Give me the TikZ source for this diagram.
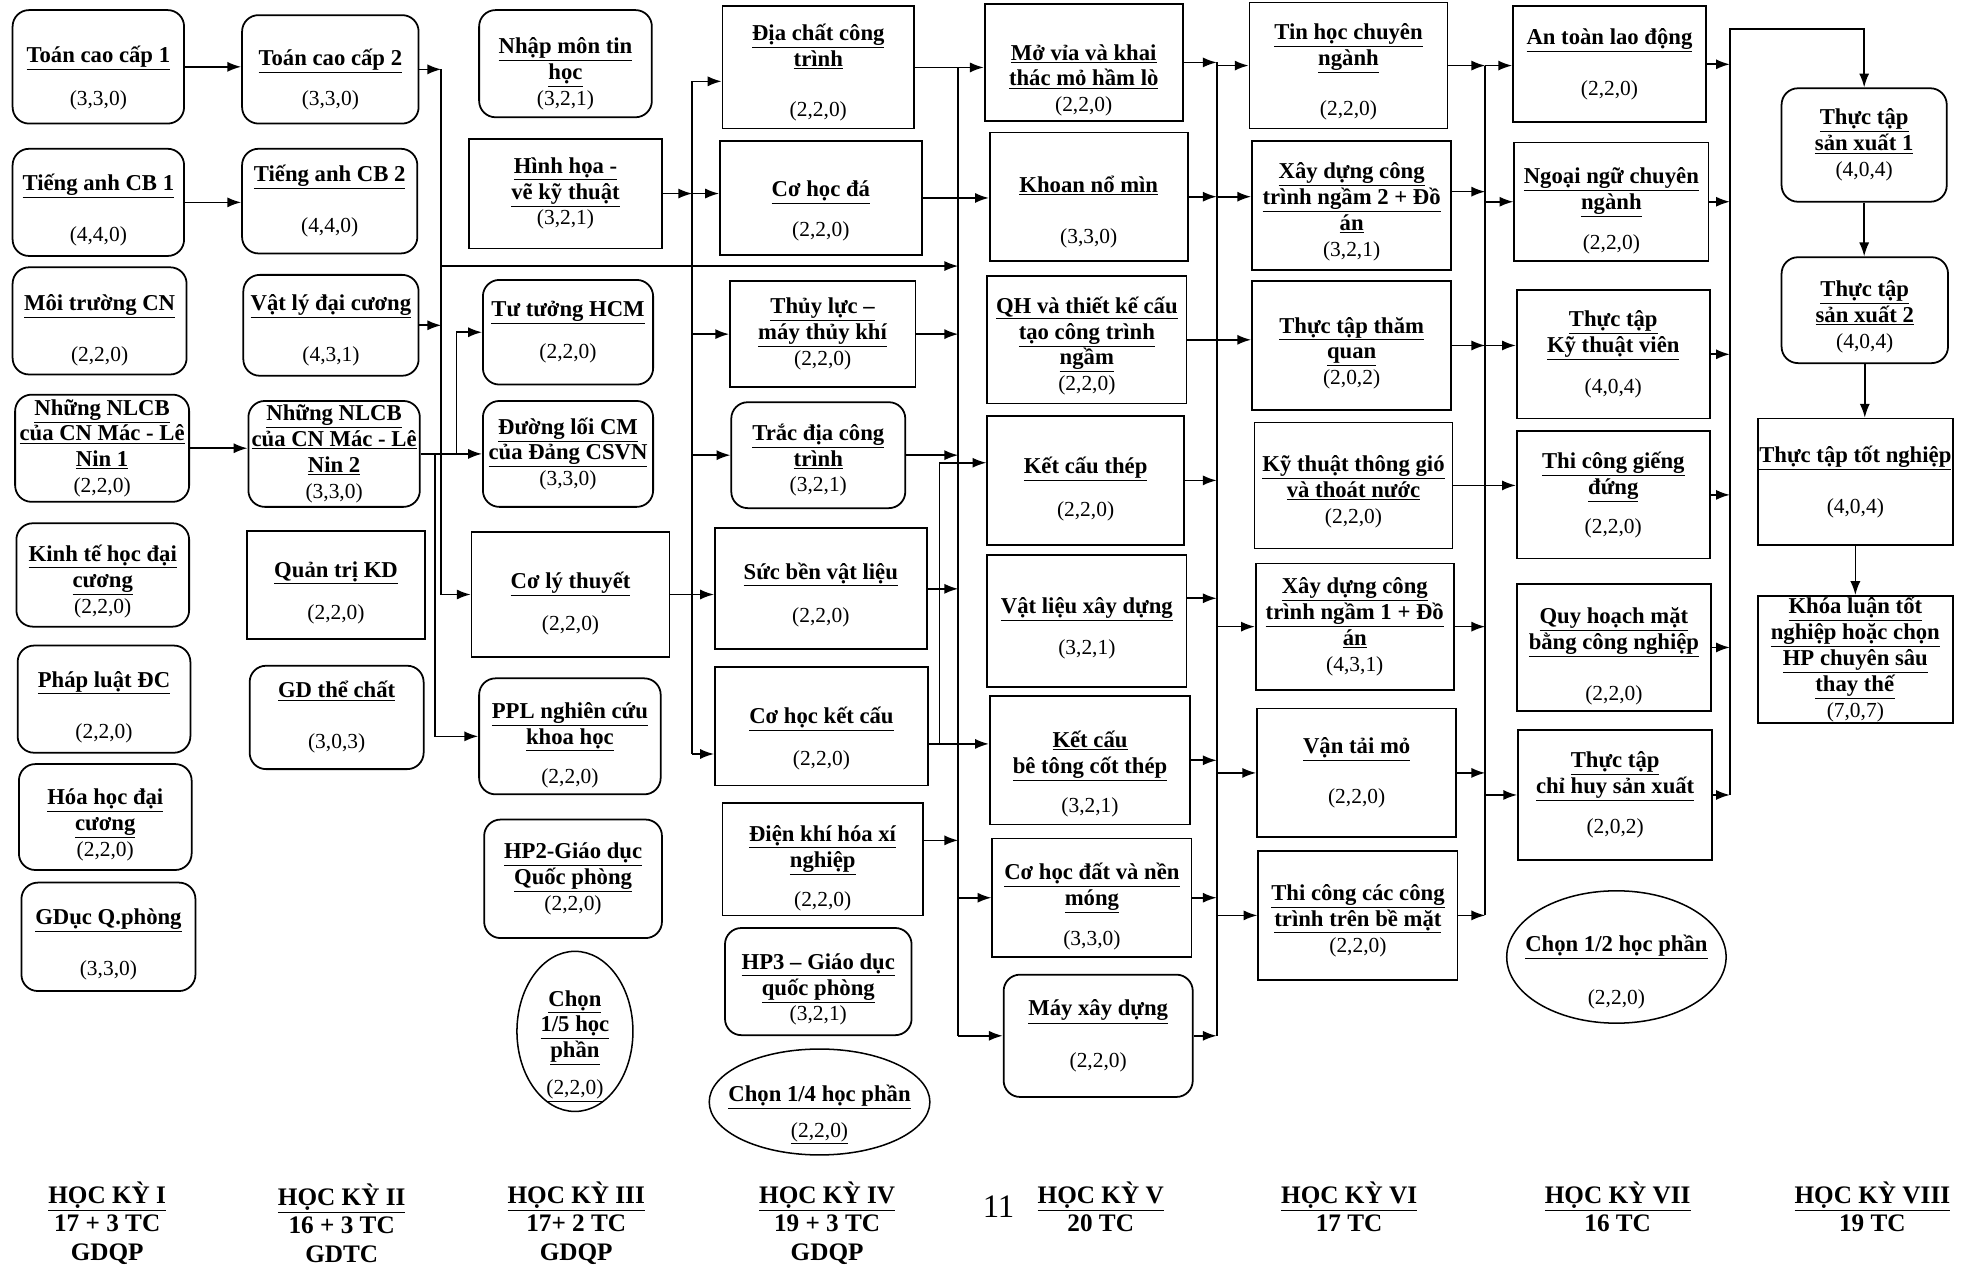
\documentclass[tikz,border=0pt]{standalone}
\usepackage{fontspec}
\setmainfont{Liberation Serif}
\usetikzlibrary{arrows.meta,shapes.geometric}
\newcommand{\mon}[1]{{\fontsize{18}{20.5}\selectfont\underline{\textbf{#1}}}}
\newcommand{\topgap}[1]{\rule{0pt}{#1pt}}

\begin{document}
\begin{tikzpicture}[x=1pt, y=-1pt,
        every node/.style={font=\fontsize{17}{20.5}\selectfont},
        course/.style={draw, line width=1.4pt, align=center, inner sep=1pt},
        rcourse/.style={course, rounded corners=13pt},
        choice/.style={ellipse, draw, line width=1.2pt, align=center, inner xsep=-20pt, inner ysep=-30pt},
        sz/.style 2 args={minimum width=#1pt, minimum height=#2pt},
        flow/.style={-{Latex[length=11pt,width=8pt]}, line width=1.3pt},
        bus/.style={line width=1.3pt},
        term/.style={align=center, font=\fontsize{20}{22.5}\selectfont\bfseries}
    ]
    \path[use as bounding box, fill=white] (0,0) rectangle (1568,1005);

    % Semester I
    \node[rcourse, sz={136}{90}] (toan_1) at (78,53) {\topgap{31}\mon{Toán cao cấp 1}\\[13pt](3,3,0)};
    \node[rcourse, sz={136}{85}] (anh_1) at (78,160.5) {\topgap{25}\mon{Tiếng anh CB 1}\\[20pt](4,4,0)};
    \node[rcourse, sz={138}{85}] (moi_truong) at (79,254.5) {\topgap{27}\mon{Môi trường CN}\\[20pt](2,2,0)};
    \node[rcourse, sz={138}{85}] (nlcb_1) at (81,355.5) {\mon{Những NLCB}\\\mon{của CN Mác - Lê}\\\mon{Nin 1}\\(2,2,0)};
    \node[rcourse, sz={137}{82}] (kinh_te) at (81.5,456) {\topgap{23}\mon{Kinh tế học đại}\\\mon{cương}\\(2,2,0)};
    \node[rcourse, sz={137}{85}] (phap_luat) at (82.5,554.5) {\topgap{25}\mon{Pháp luật ĐC}\\[20pt](2,2,0)};
    \node[rcourse, sz={137}{84}] (hoa_hoc) at (83.5,648) {\topgap{25}\mon{Hóa học đại}\\\mon{cương}\\(2,2,0)};
    \node[rcourse, sz={138}{86}] (gdqp_1) at (86,743) {\topgap{25}\mon{GDục Q.phòng}\\[20pt](3,3,0)};

    % Semester II
    \node[rcourse, sz={140}{86}] (toan_2) at (262,55) {\topgap{29}\mon{Toán cao cấp 2}\\[11pt](3,3,0)};
    \node[rcourse, sz={139}{83}] (anh_2) at (261.5,159.5) {\mon{Tiếng anh CB 2}\\[20pt](4,4,0)};
    \node[rcourse, sz={139}{80}] (vat_ly) at (262.5,258) {\topgap{21}\mon{Vật lý đại cương}\\[20pt](4,3,1)};
    \node[rcourse, sz={136}{84}] (nlcb_2) at (265,360) {\mon{Những NLCB}\\\mon{của CN Mác - Lê}\\\mon{Nin 2}\\(3,3,0)};
    \node[course, sz={141}{86}] (quan_tri) at (266.5,464) {\topgap{25}\mon{Quản trị KD}\\[13pt](2,2,0)};
    \node[rcourse, sz={138}{82}] (gd_tc) at (267,569) {\mon{GD thể chất}\\[20pt](3,0,3)};

    % Semester III
    \node[rcourse, sz={137}{85}] (nhap_mon) at (448.5,50.5) {\topgap{29}\mon{Nhập môn tin}\\\mon{học}\\(3,2,1)};
    \node[course, sz={153}{87}] (hinh_hoa) at (448.5,153.5) {\mon{Hình họa -}\\\mon{vẽ kỹ thuật}\\(3,2,1)};
    \node[rcourse, sz={135}{83}] (tu_tuong) at (450.5,263.5) {\mon{Tư tưởng HCM}\\[13pt](2,2,0)};
    \node[rcourse, sz={135}{84}] (duong_loi) at (450.5,360) {\mon{Đường lối CM}\\\mon{của Đảng CSVN}\\(3,3,0)};
    \node[course, sz={157}{99}] (co_ly_thuyet) at (452.5,471.5) {\topgap{27}\mon{Cơ lý thuyết}\\[13pt](2,2,0)};
    \node[rcourse, sz={144}{92}] (ppl) at (452,584) {\topgap{27}\mon{PPL nghiên cứu}\\\mon{khoa học}\\[11pt](2,2,0)};
    \node[rcourse, sz={141}{94}] (gdqp_2) at (454.5,697) {\mon{HP2-Giáo dục}\\\mon{Quốc phòng}\\(2,2,0)};
    \node[choice, sz={92}{127}] (chon_15) at (456,818) {\topgap{36}\mon{Chọn}\\\mon{1/5 học}\\\mon{phần}\\[9pt]\underline{(2,2,0)}};

    % Semester IV
    \node[course, sz={152}{97}] (dia_chat) at (649,53.5) {\topgap{21}\mon{Địa chất công}\\\mon{trình}\\[19pt](2,2,0)};
    \node[course, sz={160}{90}] (co_hoc_da) at (651,157) {\topgap{33}\mon{Cơ học đá}\\[11pt](2,2,0)};
    \node[course, sz={147}{84}] (thuy_luc) at (652.5,265) {\mon{Thủy lực –}\\\mon{máy thủy khí}\\(2,2,0)};
    \node[rcourse, sz={138}{84}] (trac_dia) at (649,361) {\topgap{21}\mon{Trắc địa công}\\\mon{trình}\\(3,2,1)};
    \node[course, sz={168}{96}] (suc_ben) at (651,467) {\topgap{23}\mon{Sức bền vật liệu}\\[14pt](2,2,0)};
    \node[course, sz={169}{94}] (co_hoc_kc) at (651.5,576) {\topgap{33}\mon{Cơ học kết cấu}\\[13pt](2,2,0)};
    \node[course, sz={159}{89}] (dien_khi) at (652.5,681.5) {\topgap{27}\mon{Điện khí hóa xí}\\\mon{nghiệp}\\[11pt](2,2,0)};
    \node[rcourse, sz={148}{85}] (gdqp_3) at (649,778.5) {\topgap{25}\mon{HP3 – Giáo dục}\\\mon{quốc phòng}\\(3,2,1)};
    \node[choice, sz={175}{84}] (chon_14) at (650,874) {\topgap{33}\mon{Chọn 1/4 học phần}\\[8pt]\underline{(2,2,0)}};

    % Semester V
    \node[course, sz={157}{93}] (mo_via) at (859.5,49.5) {\topgap{41}\mon{Mở vỉa và khai}\\\mon{thác mỏ hầm lò}\\(2,2,0)};
    \node[course, sz={157}{102}] (khoan) at (863.5,156) {\topgap{37}\mon{Khoan nổ mìn}\\[20pt](3,3,0)};
    \node[course, sz={158}{101}] (qh_tk) at (862,269.5) {\topgap{23}\mon{QH và thiết kế cấu}\\\mon{tạo công trình}\\\mon{ngầm}\\(2,2,0)};
    \node[course, sz={156}{102}] (kc_thep) at (861,381) {\topgap{27}\mon{Kết cấu thép}\\[14pt](2,2,0)};
    \node[course, sz={158}{105}] (vat_lieu) at (862,492.5) {\topgap{25}\mon{Vật liệu xây dựng}\\[12pt](3,2,1)};
    \node[course, sz={159}{102}] (kc_btct) at (864.5,603) {\topgap{35}\mon{Kết cấu}\\\mon{bê tông cốt thép}\\[11pt](3,2,1)};
    \node[course, sz={158}{94}] (co_hoc_dat) at (866,712) {\topgap{27}\mon{Cơ học đất và nền}\\\mon{móng}\\[11pt](3,3,0)};
    \node[rcourse, sz={150}{97}] (may_xd) at (871,821.5) {\mon{Máy xây dựng}\\[20pt](2,2,0)};

    % Semester VI
    \node[course, sz={157}{100}] (tin_hoc) at (1069.5,52) {\topgap{23}\mon{Tin học chuyên}\\\mon{ngành}\\[19pt](2,2,0)};
    \node[course, sz={158}{102}] (xd_ctn_2) at (1072,163) {\topgap{23}\mon{Xây dựng công}\\\mon{trình ngầm 2 + Đồ}\\\mon{án}\\(3,2,1)};
    \node[course, sz={158}{102}] (tham_quan) at (1072,274) {\topgap{25}\mon{Thực tập thăm}\\\mon{quan}\\(2,0,2)};
    \node[course, sz={157}{100}] (thong_gio) at (1073.5,385) {\topgap{23}\mon{Kỹ thuật thông gió}\\\mon{và thoát nước}\\(2,2,0)};
    \node[course, sz={157}{100}] (xd_ctn_1) at (1074.5,497) {\mon{Xây dựng công}\\\mon{trình ngầm 1 + Đồ}\\\mon{án}\\(4,3,1)};
    \node[course, sz={158}{102}] (van_tai) at (1076,613) {\mon{Vận tải mỏ}\\[19pt](2,2,0)};
    \node[course, sz={158}{102}] (thi_cong_bm) at (1077,726) {\topgap{21}\mon{Thi công các công}\\\mon{trình trên bề mặt}\\(2,2,0)};

    % Semester VII
    \node[course, sz={153}{92}] (an_toan) at (1276.5,51) {\mon{An toàn lao động}\\[20pt](2,2,0)};
    \node[course, sz={154}{94}] (ngoai_ngu) at (1278,160) {\topgap{27}\mon{Ngoại ngữ chuyên}\\\mon{ngành}\\[11pt](2,2,0)};
    \node[course, sz={153}{102}] (tt_ktv) at (1279.5,281) {\mon{Thực tập}\\\mon{Kỹ thuật viên}\\[12pt](4,0,4)};
    \node[course, sz={153}{101}] (gieng_dung) at (1279.5,392.5) {\mon{Thi công giếng}\\\mon{đứng}\\[10pt](2,2,0)};
    \node[course, sz={154}{101}] (quy_hoach) at (1280,513.5) {\topgap{27}\mon{Quy hoạch mặt}\\\mon{bằng công nghiệp}\\[20pt](2,2,0)};
    \node[course, sz={154}{103}] (tt_chsx) at (1281,630.5) {\mon{Thực tập}\\\mon{chỉ huy sản xuất}\\[11pt](2,0,2)};
    \node[choice, sz={174}{105}] (chon_12) at (1282,759) {\topgap{37}\mon{Chọn 1/2 học phần}\\[21pt](2,2,0)};

    % Semester VIII
    \node[rcourse, sz={131}{90}] (tt_sx_1) at (1478.5,115) {\mon{Thực tập}\\\mon{sản xuất 1}\\(4,0,4)};
    \node[rcourse, sz={132}{84}] (tt_sx_2) at (1479,246) {\topgap{23}\mon{Thực tập}\\\mon{sản xuất 2}\\(4,0,4)};
    \node[course, sz={155}{100}] (tt_tn) at (1471.5,382) {\mon{Thực tập tốt nghiệp}\\[20pt](4,0,4)};
    \node[course, sz={155}{100}] (khoa_luan) at (1471.5,523) {\mon{Khóa luận tốt}\\\mon{nghiệp hoặc chọn}\\\mon{HP chuyên sâu}\\\mon{thay thế}\\(7,0,7)};

    % Semester labels
    \node[term] (hk_1) at (85,970) {\underline{HỌC KỲ I}\\17 + 3 TC\\GDQP};
    \node[term] (hk_2) at (271,970) {\underline{HỌC KỲ II}\\16 + 3 TC\\GDTC};
    \node[term] (hk_3) at (457,970) {\underline{HỌC KỲ III}\\17+ 2 TC\\GDQP};
    \node[term] (hk_4) at (656,970) {\underline{HỌC KỲ IV}\\19 + 3 TC\\GDQP};
    \node[term] (hk_5) at (873,957) {\underline{HỌC KỲ V}\\20 TC};
    \node[term] (hk_6) at (1070,957) {\underline{HỌC KỲ VI}\\17 TC};
    \node[term] (hk_7) at (1283,957) {\underline{HỌC KỲ VII}\\16 TC};
    \node[term] (hk_8) at (1485,957) {\underline{HỌC KỲ VIII}\\19 TC};
    \node[font=\fontsize{26}{28}\selectfont] (page_no) at (792,957) {11};

    % Bus lines and offset ends
    \coordinate (v23a) at (350,0);
    \coordinate (v23b) at (362,0);
    \coordinate (v23c) at (345,0);
    \coordinate (tap) at (350,211);
    \coordinate (v34) at (549,0);
    \coordinate (v45) at (760,0);
    \coordinate (v45b) at (745,0);
    \coordinate (v56) at (965,0);
    \coordinate (v67) at (1178,0);
    \coordinate (v78) at (1372,23);
    \coordinate (dia_chat_in) at ([yshift=-11pt]dia_chat.west);
    \coordinate (co_hoc_kc_in) at ([yshift=-22pt]co_hoc_kc.west);
    \coordinate (co_hoc_kc_out) at ([yshift=-14pt]co_hoc_kc.east);
    \coordinate (kc_thep_in) at ([yshift=14pt]kc_thep.west);
    \coordinate (dien_khi_out) at ([yshift=15pt]dien_khi.east);
    \coordinate (vat_lieu_out) at ([yshift=18pt]vat_lieu.east);
    \coordinate (xd_ctn_2_out) at ([yshift=11pt]xd_ctn_2.east);

    % I -> II
    \draw[flow] (toan_1.east) -- (toan_1.east -| toan_2.west);
    \draw[flow] (anh_1.east) -- (anh_1.east -| anh_2.west);
    \draw[flow] (nlcb_1.east) -- (nlcb_1.east -| nlcb_2.west);

    % II -> III
    \draw[flow] (toan_2.east) -- (toan_2.east -| v23a);
    \draw[flow] (vat_ly.east) -- (vat_ly.east -| v23a);
    \draw[flow] (toan_2.east -| v23a) -- (v23a |- co_ly_thuyet.west) -- (co_ly_thuyet.west);
    \draw[flow] (tap) -- (tap -| v45);
    \draw[flow] (nlcb_2.east) -- (nlcb_2.east -| duong_loi.west);
    \draw[flow] (nlcb_2.east -| v23b) -- (v23b |- tu_tuong.west) -- (tu_tuong.west);
    \draw[flow] (nlcb_2.east -| v23c) -- (v23c |- ppl.west) -- (ppl.west);

    % III -> IV
    \draw[bus] (v34 |- dia_chat_in) -- (v34 |- co_hoc_kc_in);
    \draw[flow] (hinh_hoa.east) -- (hinh_hoa.east -| v34);
    \draw[flow] (hinh_hoa.east -| v34) -- (hinh_hoa.east -| co_hoc_da.west);
    \draw[flow] (v34 |- dia_chat_in) -- (dia_chat_in);
    \draw[flow] (v34 |- thuy_luc.west) -- (thuy_luc.west);
    \draw[flow] (v34 |- trac_dia.west) -- (trac_dia.west);
    \draw[flow] (v34 |- co_hoc_kc_in) -- (co_hoc_kc_in);
    \draw[flow] (co_ly_thuyet.east) -- (co_ly_thuyet.east -| suc_ben.west);

    % IV -> V
    \draw[bus] (dia_chat.east -| v45) -- (v45 |- may_xd.west);
    \draw[flow] (dia_chat.east) -- (dia_chat.east -| mo_via.west);
    \draw[flow] (co_hoc_da.east) -- (co_hoc_da.east -| khoan.west);
    \draw[flow] (thuy_luc.east) -- (thuy_luc.east -| v45);
    \draw[flow] (trac_dia.east) -- (trac_dia.east -| v45);
    \draw[flow] (suc_ben.east) -- (suc_ben.east -| v45);
    \draw[flow] (dien_khi_out) -- (dien_khi_out -| v45);
    \draw[flow] (v45 |- co_hoc_dat.west) -- (co_hoc_dat.west);
    \draw[flow] (v45 |- may_xd.west) -- (may_xd.west);
    \draw[flow] (co_hoc_kc_out) -- (co_hoc_kc_out -| kc_btct.west);
    \draw[flow] (co_hoc_kc_out -| v45b) -- (v45b |- kc_thep_in) -- (kc_thep_in);

    % V -> VI
    \draw[bus] (mo_via.east -| v56) -- (v56 |- may_xd.east);
    \draw[flow] (mo_via.east) -- (mo_via.east -| v56);
    \draw[flow] (v56 |- tin_hoc.west) -- (tin_hoc.west);
    \draw[flow] (khoan.east) -- (khoan.east -| v56);
    \draw[flow] (khoan.east -| v56) -- (khoan.east -| xd_ctn_2.west);
    \draw[flow] (qh_tk.east) -- (qh_tk.east -| tham_quan.west);
    \draw[flow] (kc_thep.east) -- (kc_thep.east -| v56);
    \draw[flow] (vat_lieu_out) -- (vat_lieu_out -| v56);
    \draw[flow] (v56 |- xd_ctn_1.west) -- (xd_ctn_1.west);
    \draw[flow] (kc_btct.east) -- (kc_btct.east -| v56);
    \draw[flow] (v56 |- van_tai.west) -- (van_tai.west);
    \draw[flow] (co_hoc_dat.east) -- (co_hoc_dat.east -| v56);
    \draw[flow] (v56 |- thi_cong_bm.west) -- (thi_cong_bm.west);
    \draw[flow] (may_xd.east) -- (may_xd.east -| v56);

    % VI -> VII
    \draw[bus] (tin_hoc.east -| v67) -- (v67 |- thi_cong_bm.east);
    \draw[flow] (tin_hoc.east) -- (tin_hoc.east -| v67);
    \draw[flow] (tin_hoc.east -| v67) -- (tin_hoc.east -| an_toan.west);
    \draw[flow] (xd_ctn_2_out) -- (xd_ctn_2_out -| v67);
    \draw[flow] (v67 |- ngoai_ngu.west) -- (ngoai_ngu.west);
    \draw[flow] (tham_quan.east) -- (tham_quan.east -| v67);
    \draw[flow] (tham_quan.east -| v67) -- (tham_quan.east -| tt_ktv.west);
    \draw[flow] (thong_gio.east) -- (thong_gio.east -| gieng_dung.west);
    \draw[flow] (xd_ctn_1.east) -- (xd_ctn_1.east -| v67);
    \draw[flow] (van_tai.east) -- (van_tai.east -| v67);
    \draw[flow] (v67 |- tt_chsx.west) -- (tt_chsx.west);
    \draw[flow] (thi_cong_bm.east) -- (thi_cong_bm.east -| v67);

    % VII -> VIII
    \draw[flow] (an_toan.east) -- (an_toan.east -| v78);
    \draw[flow] (ngoai_ngu.east) -- (ngoai_ngu.east -| v78);
    \draw[flow] (tt_ktv.east) -- (tt_ktv.east -| v78);
    \draw[flow] (gieng_dung.east) -- (gieng_dung.east -| v78);
    \draw[flow] (quy_hoach.east) -- (quy_hoach.east -| v78);
    \draw[flow] (tt_chsx.east) -- (tt_chsx.east -| v78);
    \draw[flow] (tt_chsx.east -| v78) -- (v78) -- (v78 -| tt_sx_1.north) -- (tt_sx_1.north);
    \draw[flow] (tt_sx_1.south) -- (tt_sx_1.south |- tt_sx_2.north);
    \draw[flow] (tt_sx_2.south) -- (tt_sx_2.south |- tt_tn.north);
    \draw[flow] (tt_tn.south) -- (tt_tn.south |- khoa_luan.north);

\end{tikzpicture}
\end{document}
